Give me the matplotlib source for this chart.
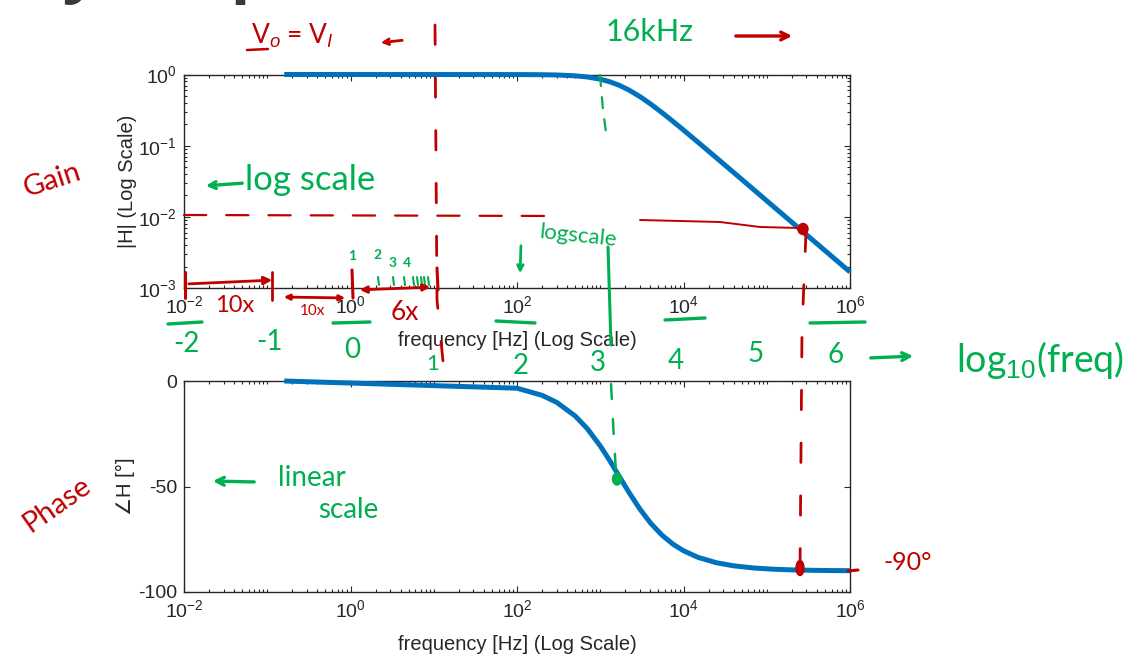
import numpy as np
import matplotlib
matplotlib.use("Agg")
import matplotlib.pyplot as plt
from matplotlib.lines import Line2D
from matplotlib.patches import Ellipse, FancyArrowPatch
from matplotlib.ticker import FixedLocator, LogLocator, NullFormatter, LogFormatterSciNotation

# ---------------- data ----------------
freq_hz = [0.16, 100, 200, 300, 500, 700, 1000, 1300, 1700, 2200, 3000, 4000,
           5500, 7500, 1e4, 1.5e4, 2.5e4, 4e4, 7e4, 1.2e5, 2e5, 3.5e5, 6e5, 1e6]
mag_H = [1.000, 0.9982, 0.9930, 0.9844, 0.9585, 0.9231, 0.8593, 0.7909, 0.7029,
         0.6069, 0.4886, 0.3872, 0.2921, 0.2186, 0.1657, 0.1113, 0.0671, 0.0420,
         0.0240, 0.0140, 0.00840, 0.00480, 0.00280, 0.00168]
phase_deg = [0.0, -3.41, -6.79, -10.13, -16.57, -22.62, -30.76, -37.73, -45.34,
             -52.63, -60.75, -67.22, -73.01, -77.37, -80.46, -83.61, -86.16,
             -87.59, -88.63, -89.20, -89.52, -89.72, -89.84, -89.90]
x_major_ticks = [1e-2, 1e0, 1e2, 1e4, 1e6]
mag_major_ticks = [1e-3, 1e-2, 1e-1, 1e0]
phase_ticks = [-100, -50, 0]

W, H = 1134, 660
BLUE = "#0072BD"
RED = "#C00000"
GREEN = "#00B050"
AX = "#262626"

plt.rcParams["font.family"] = ["Liberation Sans", "DejaVu Sans"]
plt.rcParams["mathtext.fontset"] = "custom"
plt.rcParams["mathtext.rm"] = "Liberation Sans"
plt.rcParams["mathtext.it"] = "Liberation Sans:italic"
plt.rcParams["axes.linewidth"] = 1.0
plt.rcParams["axes.edgecolor"] = AX
plt.rcParams["axes.unicode_minus"] = False

fig = plt.figure(figsize=(W / 100, H / 100), dpi=100)
fig.patch.set_facecolor("white")


def fx(x):
    return x / W


def fy(y):
    return 1 - y / H


ax1 = fig.add_axes([fx(184), fy(288), fx(850) - fx(184), fy(74.5) - fy(288)])
ax2 = fig.add_axes([fx(184), fy(592), fx(850) - fx(184), fy(381) - fy(592)])

for ax in (ax1, ax2):
    ax.set_xscale("log")
    ax.set_xlim(1e-2, 1e6)
    ax.xaxis.set_major_locator(FixedLocator(x_major_ticks))
    ax.xaxis.set_major_formatter(LogFormatterSciNotation())
    ax.xaxis.set_minor_locator(LogLocator(base=10, subs=np.arange(1, 10), numticks=100))
    ax.xaxis.set_minor_formatter(NullFormatter())
    ax.tick_params(which="both", direction="in", top=True, right=True,
                   color=AX, labelcolor=AX, labelsize=14, width=0.8)
    ax.tick_params(which="major", length=4.5, pad=5)
    ax.tick_params(which="minor", length=2.5)
    ax.set_xlabel("frequency [Hz] (Log Scale)", fontsize=14.5, color=AX, labelpad=10)

ax1.set_yscale("log")
ax1.set_ylim(1e-3, 1e0)
ax1.yaxis.set_major_locator(FixedLocator(mag_major_ticks))
ax1.yaxis.set_major_formatter(LogFormatterSciNotation())
ax1.yaxis.set_minor_locator(LogLocator(base=10, subs=np.arange(2, 10), numticks=100))
ax1.yaxis.set_minor_formatter(NullFormatter())
ax1.plot(freq_hz, mag_H, color=BLUE, lw=3.6, solid_capstyle="butt", clip_on=False, zorder=3)
ax1.set_ylabel("|H| (Log Scale)", fontsize=14.5, color=AX, labelpad=1)

ax2.set_ylim(-100, 0)
ax2.yaxis.set_major_locator(FixedLocator(phase_ticks))
ax2.yaxis.set_minor_locator(FixedLocator([]))
ax2.plot(freq_hz, phase_deg, color=BLUE, lw=3.6, solid_capstyle="butt", clip_on=False, zorder=3)
ax2.set_ylabel("\u2220H [\u00b0]", fontsize=14.5, color=AX, labelpad=2)

# ---------------- slide title (cut off at the top) ----------------
fig.text(fx(426), fy(-11), "Frequency Response", fontsize=47, fontweight="bold",
         family="Open Sans", color="#3a3a3a", ha="right", va="baseline")

# ---------------- handwritten annotations ----------------
HAND = ["Lato", "DejaVu Sans"]


def pline(xs, ys, color, lw=2.0, ls="-", dashes=None, z=5):
    ln = Line2D([fx(v) for v in xs], [fy(v) for v in ys], transform=fig.transFigure,
                color=color, lw=lw, ls=ls, solid_capstyle="round",
                dash_capstyle="round", zorder=z)
    if dashes is not None:
        ln.set_dashes(dashes)
    fig.add_artist(ln)


def parrow(x0, y0, x1, y1, color, style="-|>", lw=2.0, ms=12):
    a = FancyArrowPatch((fx(x0), fy(y0)), (fx(x1), fy(y1)), transform=fig.transFigure,
                        arrowstyle=style, mutation_scale=ms, color=color, lw=lw, zorder=6)
    fig.add_artist(a)


def ptext(x, y, s, color, size, rot=0, weight="normal"):
    fig.text(fx(x), fy(y), s, color=color, fontsize=size, rotation=rot,
             ha="center", va="center", family=HAND, fontweight=weight)


# red: Vo = VI
ptext(292, 36, "V$_o$ = V$_I$", RED, 19)
pline([247, 268], [50, 49], RED, lw=1.8)
parrow(405, 40, 378, 43, RED, style="->", ms=10)
# red vertical dashed line near 10 Hz
pline([435, 437, 446], [25, 300, 392], RED, lw=2.0, dashes=(7, 12))
# red horizontal line near |H| = 1e-2
pline([184, 560], [215, 216], RED, lw=1.6, dashes=(10, 9))
pline([640, 720, 760, 800], [220, 222, 227, 228], RED, lw=1.4)
fig.add_artist(Ellipse((fx(803), fy(229)), 10 / W, 11 / H, transform=fig.transFigure,
                       color=RED, zorder=7))
pline([806, 802, 800], [232, 330, 572], RED, lw=2.0, dashes=(7, 12))
fig.add_artist(Ellipse((fx(800), fy(568)), 8 / W, 15 / H, transform=fig.transFigure,
                       color=RED, zorder=7))
pline([848, 858], [571, 570], RED, lw=2.2)
ptext(908, 563, "-90\u00b0", RED, 18)
ptext(52, 180, "Gain", RED, 21, rot=18)
ptext(57, 505, "Phase", RED, 21, rot=35)
# red decade arrows
pline([185, 185], [272, 298], RED, lw=2.2)
parrow(186, 284, 275, 280, RED, style="-|>", ms=12)
ptext(235, 306, "10x", RED, 17)
pline([272, 272], [272, 300], RED, lw=2.0)
parrow(281, 297, 348, 298, RED, style="<|-|>", ms=8)
ptext(312, 311, "10x", RED, 11)
pline([352, 353], [270, 298], RED, lw=2.2)
parrow(357, 290, 433, 287, RED, style="<|-|>", ms=10)
ptext(405, 313, "6x", RED, 19)
pline([437, 438], [268, 290], RED, lw=2.2)
# red arrow next to 16kHz
parrow(733, 36, 795, 36, RED, style="->", ms=14, lw=2.4)

# green texts
ptext(650, 32, "16kHz", GREEN, 22)
parrow(245, 183, 203, 186, GREEN, style="->", ms=12, lw=2.4)
ptext(310, 180, "log scale", GREEN, 25)
ptext(578, 236, "logscale", GREEN, 16, rot=-6)
parrow(521, 243, 520, 276, GREEN, style="->", ms=10, lw=2.0)
# green cutoff markers
pline([600, 603, 607], [75, 110, 140], GREEN, lw=1.6, dashes=(5, 5))
pline([608, 611], [247, 345], GREEN, lw=2.2)
pline([611, 614, 616], [384, 440, 472], GREEN, lw=1.8, dashes=(6, 8))
fig.add_artist(Ellipse((fx(617), fy(479)), 9 / W, 12 / H, transform=fig.transFigure,
                       color=GREEN, zorder=7))
# green minor-tick numbering
for xv, yv, s in [(352, 256, "1"), (378, 255, "2"), (393, 263, "3"), (407, 263, "4")]:
    ptext(xv, yv, s, GREEN, 10, weight="bold")
for xv in [378, 393, 404, 413, 417, 421, 424, 428]:
    pline([xv, xv + 1], [277, 285], GREEN, lw=1.5)
# green underlines under tick labels
for x0, x1, y0, y1 in [(168, 202, 324, 322), (333, 370, 323, 322), (496, 535, 321, 323),
                       (665, 705, 320, 318), (810, 865, 323, 322)]:
    pline([x0, x1], [y0, y1], GREEN, lw=2.4)
for xv, yv, s in [(186, 344, "-2"), (270, 342, "-1"), (352, 350, "0"), (433, 364, "1"),
                  (521, 366, "2"), (598, 363, "3"), (676, 361, "4"), (756, 354, "5"),
                  (836, 355, "6")]:
    ptext(xv, yv, s, GREEN, 20 if s != "1" else 16)
parrow(868, 358, 916, 356, GREEN, style="->", ms=14, lw=2.4)
ptext(1040, 360, "log$_{10}$(freq)", GREEN, 27)
# linear scale
parrow(257, 482, 210, 481, GREEN, style="->", ms=14, lw=2.4)
ptext(312, 478, "linear", GREEN, 20)
ptext(348, 510, "scale", GREEN, 20)

fig.savefig("out.png", dpi=100, facecolor="white")
